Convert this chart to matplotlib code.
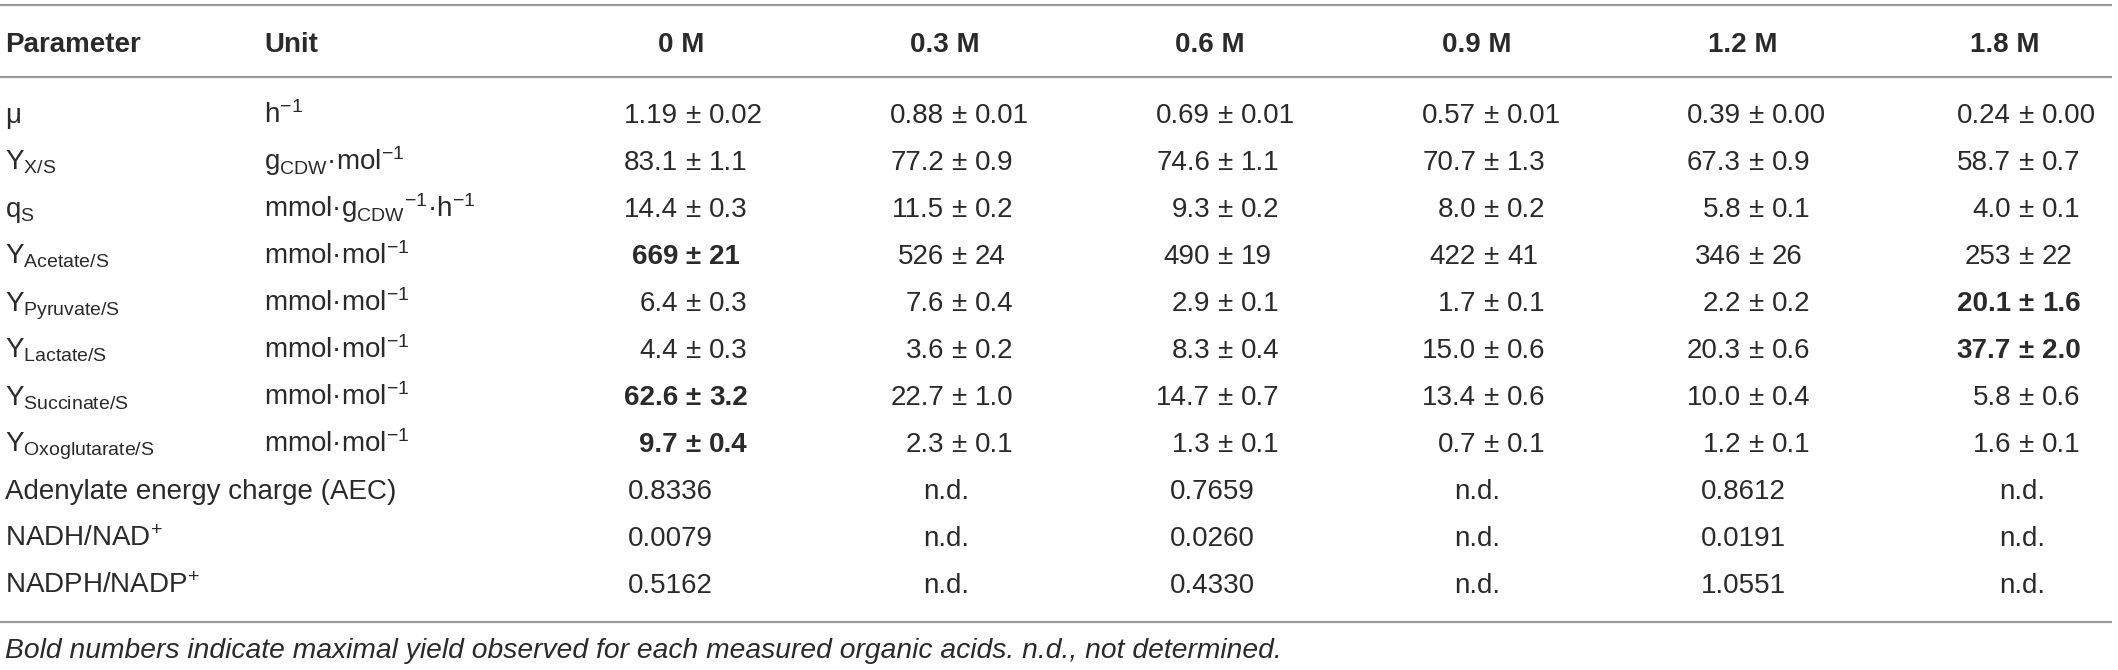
import matplotlib
matplotlib.use("Agg")
import matplotlib.pyplot as plt

plt.rcParams['font.family'] = ['Liberation Sans', 'DejaVu Sans']
plt.rcParams['mathtext.fontset'] = 'custom'
plt.rcParams['mathtext.rm'] = 'Liberation Sans'
plt.rcParams['mathtext.it'] = 'Liberation Sans:italic'
plt.rcParams['mathtext.bf'] = 'Liberation Sans:bold'

# ---------------- data ----------------
headers = ["Parameter", "Unit", "0 M", "0.3 M", "0.6 M", "0.9 M", "1.2 M", "1.8 M"]

parameters = [
    "μ",
    r"Y$_{\mathrm{X/S}}$",
    r"q$_{\mathrm{S}}$",
    r"Y$_{\mathrm{Acetate/S}}$",
    r"Y$_{\mathrm{Pyruvate/S}}$",
    r"Y$_{\mathrm{Lactate/S}}$",
    r"Y$_{\mathrm{Succinate/S}}$",
    r"Y$_{\mathrm{Oxoglutarate/S}}$",
    "Adenylate energy charge (AEC)",
    r"NADH/NAD$^{+}$",
    r"NADPH/NADP$^{+}$",
]

units = [
    r"h$^{-1}$",
    r"g$_{\mathrm{CDW}}$·mol$^{-1}$",
    r"mmol·g$_{\mathrm{CDW}}$$^{-1}$·h$^{-1}$",
    r"mmol·mol$^{-1}$",
    r"mmol·mol$^{-1}$",
    r"mmol·mol$^{-1}$",
    r"mmol·mol$^{-1}$",
    r"mmol·mol$^{-1}$",
    "", "", "",
]

col_0M  = ["1.19 ± 0.02", "83.1 ± 1.1", "14.4 ± 0.3", "669 ± 21", "6.4 ± 0.3", "4.4 ± 0.3",
           "62.6 ± 3.2", "9.7 ± 0.4", "0.8336", "0.0079", "0.5162"]
col_03M = ["0.88 ± 0.01", "77.2 ± 0.9", "11.5 ± 0.2", "526 ± 24", "7.6 ± 0.4", "3.6 ± 0.2",
           "22.7 ± 1.0", "2.3 ± 0.1", "n.d.", "n.d.", "n.d."]
col_06M = ["0.69 ± 0.01", "74.6 ± 1.1", "9.3 ± 0.2", "490 ± 19", "2.9 ± 0.1", "8.3 ± 0.4",
           "14.7 ± 0.7", "1.3 ± 0.1", "0.7659", "0.0260", "0.4330"]
col_09M = ["0.57 ± 0.01", "70.7 ± 1.3", "8.0 ± 0.2", "422 ± 41", "1.7 ± 0.1", "15.0 ± 0.6",
           "13.4 ± 0.6", "0.7 ± 0.1", "n.d.", "n.d.", "n.d."]
col_12M = ["0.39 ± 0.00", "67.3 ± 0.9", "5.8 ± 0.1", "346 ± 26", "2.2 ± 0.2", "20.3 ± 0.6",
           "10.0 ± 0.4", "1.2 ± 0.1", "0.8612", "0.0191", "1.0551"]
col_18M = ["0.24 ± 0.00", "58.7 ± 0.7", "4.0 ± 0.1", "253 ± 22", "20.1 ± 1.6", "37.7 ± 2.0",
           "5.8 ± 0.6", "1.6 ± 0.1", "n.d.", "n.d.", "n.d."]

# (row, column) cells printed in bold (maximal yields)
bold_cells = [(3, 0), (6, 0), (7, 0), (4, 5), (5, 5)]

footnote = ("Bold numbers indicate maximal yield observed for each measured organic acids. "
            "n.d., not determined.")

# ---------------- layout ----------------
W, H = 2118, 670
fig = plt.figure(figsize=(W / 100, H / 100), dpi=100)
ax = fig.add_axes([0, 0, 1, 1])
ax.set_xlim(0, W)
ax.set_ylim(H, 0)
ax.axis('off')

TXT = '#2a2a2a'
RULE = '#9a9a9a'
FS = 20

x_param = 5
x_unit = 264
header_x = [681, 945, 1210, 1477, 1743, 2005]
pm_x = [693, 959, 1225, 1491, 1756, 2026]
single_x = [670, 946, 1212, 1477, 1743, 2022]
row0, row_step = 113, 47.0
half_cap = 10

# rules
for y in (5, 77, 622):
    ax.plot([0, 2112], [y, y], color=RULE, lw=1.6, solid_capstyle='butt')

# header
hy = 42 + half_cap
ax.text(x_param, hy, headers[0], fontsize=FS, fontweight='bold', color=TXT, ha='left', va='baseline')
ax.text(x_unit, hy, headers[1], fontsize=FS, fontweight='bold', color=TXT, ha='left', va='baseline')
for j, h in enumerate(headers[2:]):
    ax.text(header_x[j], hy, h, fontsize=FS, fontweight='bold', color=TXT, ha='center', va='baseline')

columns = [col_0M, col_03M, col_06M, col_09M, col_12M, col_18M]

for i in range(len(parameters)):
    y = row0 + i * row_step + half_cap
    ax.text(x_param, y, parameters[i], fontsize=FS, color=TXT, ha='left', va='baseline')
    if units[i]:
        ax.text(x_unit, y, units[i], fontsize=FS, color=TXT, ha='left', va='baseline')
    for j, col in enumerate(columns):
        val = col[i]
        fw = 'bold' if (i, j) in bold_cells else 'normal'
        if '±' in val:
            left, right = [s.strip() for s in val.split('±')]
            ax.text(pm_x[j] - 15, y, left, fontsize=FS, color=TXT, fontweight=fw, ha='right', va='baseline')
            ax.text(pm_x[j], y, '±', fontsize=FS, color=TXT, fontweight=fw, ha='center', va='baseline')
            ax.text(pm_x[j] + 16, y, right, fontsize=FS, color=TXT, fontweight=fw, ha='left', va='baseline')
        else:
            ax.text(single_x[j], y, val, fontsize=FS, color=TXT, fontweight=fw, ha='center', va='baseline')

ax.text(x_param, 648 + half_cap, footnote, fontsize=20.3, style='italic', color=TXT, ha='left', va='baseline')

fig.savefig('out.png', dpi=100)
